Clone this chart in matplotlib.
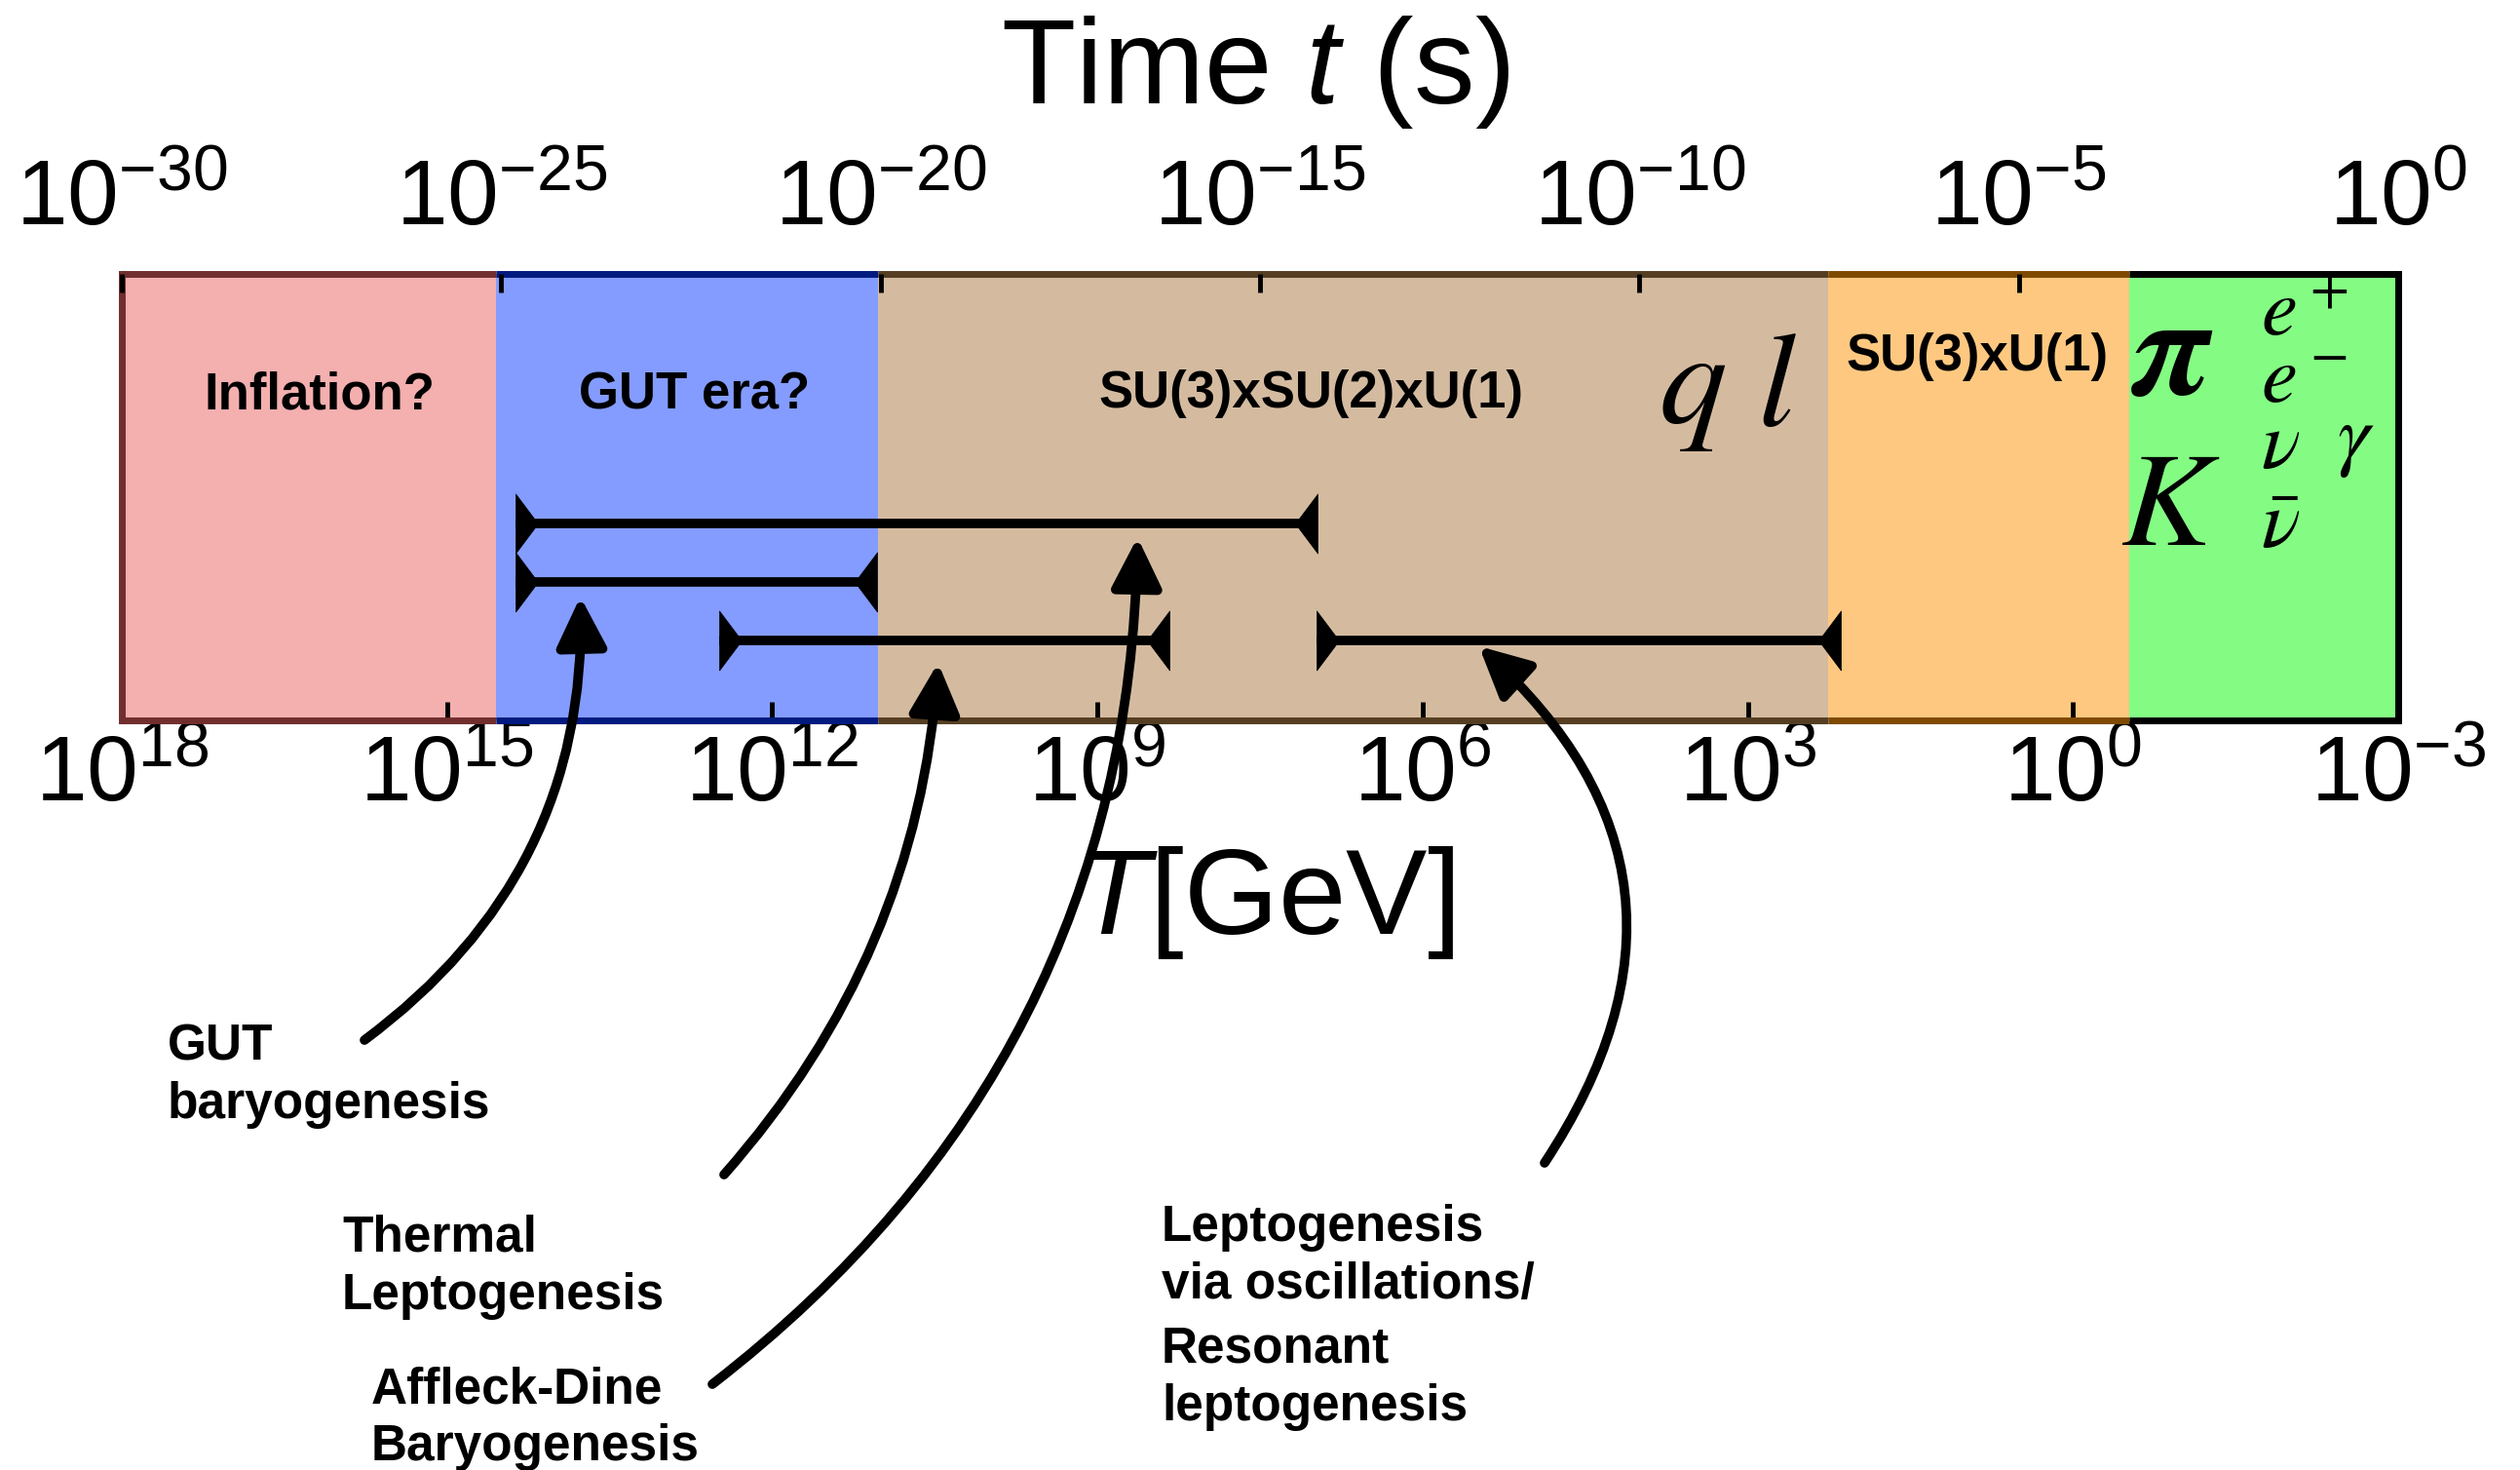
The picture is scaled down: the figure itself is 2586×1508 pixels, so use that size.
import matplotlib
matplotlib.use("Agg")
import matplotlib.pyplot as plt
from matplotlib.ticker import NullLocator, LogFormatterSciNotation

plt.rcParams['font.family'] = ['Liberation Sans', 'DejaVu Sans']
plt.rcParams['mathtext.fontset'] = 'custom'
plt.rcParams['mathtext.rm'] = 'Liberation Sans'
plt.rcParams['mathtext.it'] = 'Liberation Sans:italic'
plt.rcParams['mathtext.bf'] = 'Liberation Sans:bold'

W, H = 2586, 1508
# axes frame in figure pixels (left, right, top, bottom)
AX_L, AX_R, AX_T, AX_B = 125, 2461, 281, 739

# eras, edges given as log10(T / GeV) from hot to cold
era_names = ['Inflation?', 'GUT era?', 'SU(3)xSU(2)xU(1)', 'SU(3)xU(1)', '']
era_edges = [18, 14.55, 11.02, 2.26, -0.52, -3]
era_fill = ['#f4afaf', '#849cff', '#d4bba0', '#fec880', '#84fc84']
era_dark = ['#722e2e', '#001a7f', '#553e22', '#7f4a00', '#000000']

# baryogenesis mechanisms: temperature windows (log10 T) and row
mech_hot = [14.37, 14.37, 12.49, 6.98]
mech_cold = [6.97, 11.03, 8.34, 2.14]
mech_row = [0.441, 0.310, 0.179, 0.179]
# arrow tips (log10 T, axes fraction)
tip_logT = [8.63, 13.77, 10.47, 5.48]
tip_row = [0.410, 0.277, 0.129, 0.166]

T_ticks = [18, 15, 12, 9, 6, 3, 0, -3]
t_ticks = [-30, -25, -20, -15, -10, -5, 0]


def afrac(px, py):
    return (px - AX_L) / (AX_R - AX_L), (AX_B - py) / (AX_B - AX_T)


def era_color(lt):
    for i in range(len(era_fill)):
        if era_edges[i] >= lt > era_edges[i + 1]:
            return era_dark[i]
    return 'k'


fig = plt.figure(figsize=(W / 100, H / 100), dpi=100)
ax = fig.add_axes([AX_L / W, 1 - AX_B / H, (AX_R - AX_L) / W, (AX_B - AX_T) / H])
ax.set_xscale('log')
ax.set_xlim(1e18, 1e-3)
ax.set_ylim(0, 1)
ax.set_yticks([])
for s in ax.spines.values():
    s.set_visible(False)

xt = ax.get_xaxis_transform()
for i in range(len(era_fill)):
    lo, hi = 10.0 ** era_edges[i], 10.0 ** era_edges[i + 1]
    ax.axvspan(lo, hi, color=era_fill[i], lw=0, zorder=0)
    ax.plot([lo, hi], [1, 1], color=era_dark[i], lw=5, transform=xt,
            clip_on=False, solid_capstyle='butt', zorder=4)
    ax.plot([lo, hi], [0, 0], color=era_dark[i], lw=5, transform=xt,
            clip_on=False, solid_capstyle='butt', zorder=4)
ax.plot([1e18, 1e18], [0, 1], color=era_dark[0], lw=5, transform=xt,
        clip_on=False, zorder=4)
ax.plot([1e-3, 1e-3], [0, 1], color='k', lw=5, transform=xt,
        clip_on=False, zorder=4)

# bottom axis: temperature
ax.set_xticks([10.0 ** v for v in T_ticks])
ax.xaxis.set_minor_locator(NullLocator())
ax.xaxis.set_major_formatter(LogFormatterSciNotation())
ax.tick_params(axis='x', direction='in', length=14, width=3.5,
               labelsize=68, pad=10)
for tk, v in zip(ax.xaxis.get_major_ticks(), T_ticks):
    tk.tick1line.set_color(era_color(v))
ax.set_xlabel('$T$[GeV]', fontsize=90)
ax.xaxis.set_label_coords(0.502, afrac(0, 866)[1])

# top axis: time
ax2 = ax.twiny()
ax2.set_xscale('log')
ax2.set_xlim(1e-30, 1)
ax2.set_xticks([10.0 ** v for v in t_ticks])
ax2.xaxis.set_minor_locator(NullLocator())
ax2.xaxis.set_major_formatter(LogFormatterSciNotation())
ax2.tick_params(axis='x', direction='in', length=14, width=3.5,
                labelsize=68, pad=22)
for s in ax2.spines.values():
    s.set_visible(False)
for tk, v in zip(ax2.xaxis.get_major_ticks(), t_ticks):
    lt = 18 - (v + 30) / 30 * 21
    tk.tick2line.set_color(era_color(lt))
ax2.set_xlabel('Time $t$ (s)', fontsize=90)
ax2.xaxis.set_label_coords(0.498, afrac(0, 106)[1])

# era names
era_label_px = [(328, 420), (713, 420), (1345, 418), (2029, 380)]
for name, (px, py) in zip(era_names, era_label_px):
    x, y = afrac(px, py)
    ax.text(x, y, name, transform=ax.transAxes, ha='center', va='baseline',
            fontsize=38, fontweight='bold')

# particle content
sym = [('$q$', 1737, 400, 100, 'center', 'center'),
       ('$l$', 1823, 400, 100, 'center', 'center'),
       ('$K$', 2227, 559, 100, 'center', 'baseline'),
       ('$e^+$', 2320, 345, 60, 'left', 'baseline'),
       ('$e^-$', 2320, 413, 60, 'left', 'baseline'),
       (r'$\nu$', 2320, 480, 60, 'left', 'baseline'),
       (r'$\bar{\nu}$', 2320, 562, 60, 'left', 'baseline'),
       (r'$\gamma$', 2398, 473, 60, 'left', 'baseline')]
for s, px, py, fs, ha, va in sym:
    x, y = afrac(px, py)
    ax.text(x, y, s, transform=ax.transAxes, fontsize=fs, ha=ha, va=va,
            math_fontfamily='stix')
x, y = afrac(2228, 405)
ax.text(x, y, 'π', transform=ax.transAxes, fontsize=104, ha='center',
        va='baseline', family='STIXGeneral', style='italic', fontweight='bold')

# mechanism windows with wedge caps
cap_l = [(0, -1), (0, 1), (0.75, 0), (0, -1)]
cap_r = [(0, -1), (0, 1), (-0.75, 0), (0, -1)]
for hot, cold, row in zip(mech_hot, mech_cold, mech_row):
    ax.plot([10.0 ** hot, 10.0 ** cold], [row, row], color='k', lw=7,
            solid_capstyle='butt', zorder=5)
    ax.plot([10.0 ** hot], [row], marker=cap_l, ms=44, color='k',
            mec='k', mew=0.5, zorder=5)
    ax.plot([10.0 ** cold], [row], marker=cap_r, ms=44, color='k',
            mec='k', mew=0.5, zorder=5)

# labels and curved arrows
mech_labels = ['Affleck-Dine\nBaryogenesis', 'GUT\nbaryogenesis',
               'Thermal\nLeptogenesis', 'Leptogenesis\nvia oscillations/']
label_px = [(381, 1401), (172, 1050), (351, 1246), (1192, 1235)]
tail_px = [(731, 1420), (374, 1067), (743, 1205), (1585, 1193)]
rads = [0.24, 0.26, 0.17, 0.43]
for lab, (lx, ly), (tx, ty), lt, row, rad in zip(mech_labels, label_px,
                                                 tail_px, tip_logT, tip_row, rads):
    fig.text(lx / W, 1 - ly / H, lab, fontsize=37, fontweight='bold',
             ha='left', va='top', linespacing=1.27)
    ax.annotate('', xy=(10.0 ** lt, row), xycoords='data',
                xytext=(tx, H - ty), textcoords='figure pixels',
                annotation_clip=False,
                arrowprops=dict(arrowstyle='-|>,head_length=1.0,head_width=0.5',
                                connectionstyle='arc3,rad=%.2f' % rad,
                                lw=7, color='k', mutation_scale=31,
                                shrinkA=0, shrinkB=0), zorder=6)
fig.text(1192 / W, 1 - 1360 / H, 'Resonant\nleptogenesis', fontsize=37,
         fontweight='bold', ha='left', va='top', linespacing=1.27)

fig.savefig('out.png', dpi=100)
